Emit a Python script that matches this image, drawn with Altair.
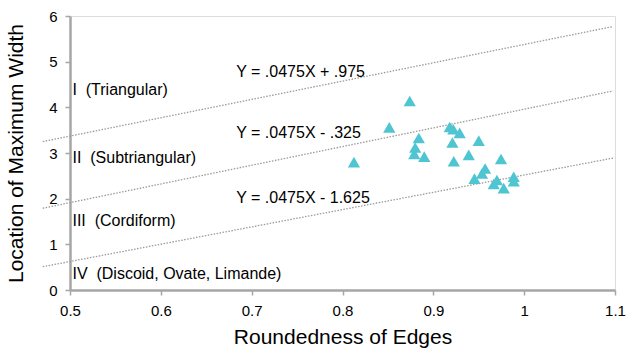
import altair as alt
import pandas as pd

# scatter points
pt_x = [0.874, 0.8515, 0.884, 0.880, 0.879, 0.890, 0.8126, 0.918, 0.922, 0.929,
        0.921, 0.950, 0.939, 0.9225, 0.9745, 0.957, 0.9536, 0.9453, 0.970, 0.9665,
        0.9775, 0.9885, 0.9885]
pt_y = [4.14, 3.56, 3.33, 3.12, 2.98, 2.92, 2.80, 3.57, 3.52, 3.44,
        3.23, 3.27, 2.96, 2.82, 2.87, 2.66, 2.55, 2.44, 2.41, 2.32,
        2.23, 2.48, 2.38]

# boundary lines (endpoints)
line_names = ["top", "mid", "bottom"]
line_x0 = [0.47, 0.47, 0.47]
line_x1 = [1.098, 1.098, 1.098]
line_y0 = [3.25, 1.79, 0.51]
line_y1 = [5.77, 4.36, 2.89]

# equation labels
eq_text = ["Y = .0475X + .975", "Y = .0475X - .325", "Y = .0475X - 1.625"]
eq_x = [0.683, 0.683, 0.683]
eq_y = [4.78, 3.44, 2.02]

# region labels (non-breaking double spaces)
reg_text = ["I\u00a0\u00a0(Triangular)", "II\u00a0\u00a0(Subtriangular)",
            "III\u00a0\u00a0(Cordiform)", "IV\u00a0\u00a0(Discoid, Ovate, Limande)"]
reg_x = [0.5027, 0.5027, 0.5027, 0.5027]
reg_y = [4.38, 2.89, 1.52, 0.35]

x_ticks = [0.5, 0.6, 0.7, 0.8, 0.9, 1.0, 1.1]
y_ticks = [0, 1, 2, 3, 4, 5, 6]

FONT = "Liberation Sans"

pts = pd.DataFrame({"x": pt_x, "y": pt_y})
rows = []
for n, a, b, c, d in zip(line_names, line_x0, line_x1, line_y0, line_y1):
    rows.append({"name": n, "x": a, "y": c})
    rows.append({"name": n, "x": b, "y": d})
lines = pd.DataFrame(rows)
eqs = pd.DataFrame({"x": eq_x, "y": eq_y, "t": eq_text})
regs = pd.DataFrame({"x": reg_x, "y": reg_y, "t": reg_text})

xs = alt.Scale(domain=[0.5, 1.1], nice=False, zero=False)
ys = alt.Scale(domain=[0, 6], nice=False, zero=True)

common = dict(grid=False, labelFontSize=15, titleFontSize=21,
              domainColor="#A6A6A6", domainWidth=2.5, tickColor="#A6A6A6",
              tickWidth=1.5, tickSize=5, labelColor="#000", titleColor="#000",
              labelFont=FONT, titleFont=FONT, titleFontWeight="normal",
              labelFlush=False)
xaxis = alt.Axis(values=x_ticks, title="Roundedness of Edges",
                 labelExpr="datum.value == 1 ? '1' : format(datum.value, '.1f')",
                 labelPadding=8, titlePadding=8, **common)
yaxis = alt.Axis(values=y_ticks, title="Location of Maximum Width",
                 labelPadding=8, titlePadding=22, **common)

line_layer = alt.Chart(lines).mark_line(
    color="#9A9A9A", strokeWidth=1.3, strokeDash=[1.5, 1.5], clip=False
).encode(x=alt.X("x:Q", scale=xs, axis=xaxis), y=alt.Y("y:Q", scale=ys, axis=yaxis),
         detail="name:N")

pt_layer = alt.Chart(pts).mark_point(
    shape="triangle-up", filled=True, size=150, color="#4EC5D1", opacity=1
).encode(x=alt.X("x:Q", scale=xs), y=alt.Y("y:Q", scale=ys))

eq_layer = alt.Chart(eqs).mark_text(
    align="left", baseline="middle", fontSize=16, font=FONT, color="#000"
).encode(x=alt.X("x:Q", scale=xs), y=alt.Y("y:Q", scale=ys), text="t:N")

reg_layer = alt.Chart(regs).mark_text(
    align="left", baseline="middle", fontSize=16, font=FONT, color="#000"
).encode(x=alt.X("x:Q", scale=xs), y=alt.Y("y:Q", scale=ys), text="t:N")

chart = alt.layer(line_layer, pt_layer, eq_layer, reg_layer).properties(
    width=545, height=274,
    autosize=alt.AutoSizeParams(type="none"),
    padding={"left": 70, "top": 16, "right": 23, "bottom": 59},
).configure_view(stroke=None).configure(background="white")

chart.save("out.html", embed_options={"renderer": "svg", "actions": False})
